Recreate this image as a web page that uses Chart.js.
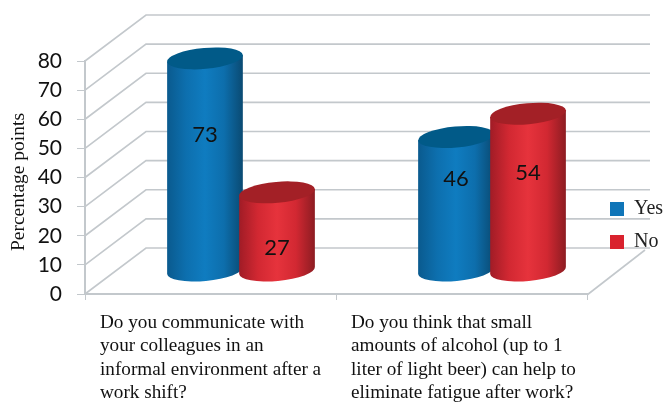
<!DOCTYPE html>
<html>
<head>
<meta charset="utf-8">
<style>
  html, body { margin: 0; padding: 0; background: #fff; }
  #wrap { width: 667px; height: 403px; }
</style>
</head>
<body>
<div id="wrap"><canvas id="chart" width="667" height="403"></canvas></div>
<script src="https://cdn.jsdelivr.net/npm/chart.js@4"></script>
<script>
const categories = [
    ['Do you communicate with', 'your colleagues in an', 'informal environment after a', 'work shift?'],
    ['Do you think that small', 'amounts of alcohol (up to 1', 'liter of light beer) can help to', 'eliminate fatigue after work?']
];
const yesValues = [73, 46];
const noValues = [27, 54];
const yTicks = [0, 10, 20, 30, 40, 50, 60, 70, 80];
const yTitle = 'Percentage points';

// 3D look: depth of the box and how the cylinders sit in it
const depthX = 61, depthY = -46;
const wallRight = 650;
const capRy = 10.5, capTilt = -0.09;
const labelShift = [[-30, 16], [-25, -19]];
const gridColor = '#c3c8cc';
const serif = '"Liberation Serif", serif';
const sans = 'Lato, sans-serif';

const bodyStops = {
    Yes: ['#0a5a8e', '#0d6fae', '#0f7cc0', '#0d6eac', '#0a4a72'],
    No: ['#a01c26', '#d22832', '#e6333c', '#d22832', '#8c1c22']
};
const capColors = { Yes: '#015a88', No: '#a32026' };

function drawCylinder(ctx, bar, name) {
    const rx = bar.width / 2;
    const cx = bar.x + depthX / 2;
    const top = bar.y + depthY / 2;
    const base = bar.base + depthY / 2;
    const ex = rx * Math.cos(capTilt), ey = rx * Math.sin(capTilt);

    const grad = ctx.createLinearGradient(cx - rx, 0, cx + rx, 0);
    bodyStops[name].forEach((c, i, all) => grad.addColorStop(i / (all.length - 1), c));

    ctx.beginPath();
    ctx.moveTo(cx - ex, top - ey);
    ctx.lineTo(cx - ex, base - ey);
    ctx.ellipse(cx, base, rx, capRy, capTilt, Math.PI, 0, true);
    ctx.lineTo(cx + ex, top + ey);
    ctx.closePath();
    ctx.fillStyle = grad;
    ctx.fill();

    ctx.beginPath();
    ctx.ellipse(cx, top, rx, capRy, capTilt, 0, Math.PI * 2);
    ctx.fillStyle = capColors[name];
    ctx.fill();
}

const box3d = {
    id: 'box3d',
    beforeDraw(chart) {
        const { ctx, scales: { x, y } } = chart;
        ctx.save();
        ctx.strokeStyle = gridColor;
        ctx.lineWidth = 1.6;
        yTicks.forEach(v => {
            const py = y.getPixelForValue(v);
            ctx.beginPath();
            ctx.moveTo(x.left, py);
            ctx.lineTo(x.left + depthX, py + depthY);
            ctx.lineTo(wallRight, py + depthY);
            ctx.stroke();
        });
        // right edge of the floor
        const floor = y.getPixelForValue(0);
        ctx.beginPath();
        ctx.moveTo(x.right, floor + 1);
        ctx.lineTo(wallRight - 5, floor + depthY + 2);
        ctx.stroke();
        ctx.restore();

        // the legend is placed by hand at the right of the box
        const legend = chart.legend;
        const dx = 597 - legend.left, dy = 186 - legend.top;
        legend.left += dx; legend.right += dx;
        legend.top += dy; legend.bottom += dy;
    },
    // native bars are replaced by the cylinders
    beforeDatasetDraw() {
        return false;
    },
    afterDatasetsDraw(chart) {
        const { ctx, scales: { x } } = chart;
        ctx.save();
        chart.data.datasets.forEach((ds, d) => {
            chart.getDatasetMeta(d).data.forEach(bar => drawCylinder(ctx, bar, ds.label));
        });
        ctx.fillStyle = '#111';
        ctx.font = '22px ' + sans;
        ctx.textAlign = 'center';
        ctx.textBaseline = 'middle';
        chart.data.datasets.forEach((ds, d) => {
            chart.getDatasetMeta(d).data.forEach((bar, i) => {
                const mid = (bar.y + bar.base + depthY) / 2;
                ctx.fillText(String(ds.data[i]), bar.x + depthX / 2, mid + labelShift[i][d]);
            });
        });
        // category labels are left aligned under each band
        ctx.fillStyle = '#111';
        ctx.font = '19.2px ' + serif;
        ctx.textAlign = 'left';
        categories.forEach((lines, i) => {
            const left = x.getPixelForTick(i) - 110.5;
            lines.forEach((line, n) => ctx.fillText(line, left, 323 + n * 23.3));
        });
        // y axis title
        ctx.translate(19, 182);
        ctx.rotate(-Math.PI / 2);
        ctx.textAlign = 'center';
        ctx.font = '19.5px ' + serif;
        ctx.fillText(yTitle, 0, 0);
        ctx.restore();
    }
};

new Chart(document.getElementById('chart'), {
    type: 'bar',
    data: {
        labels: categories,
        datasets: [
            { label: 'Yes', data: yesValues, backgroundColor: '#0f75b8' },
            { label: 'No', data: noValues, backgroundColor: '#d9222e' }
        ]
    },
    options: {
        responsive: false,
        animation: false,
        categoryPercentage: 0.574,
        barPercentage: 1.055,
        layout: { padding: { top: 61, left: 0, right: 80, bottom: 99 } },
        plugins: {
            tooltip: { enabled: false },
            legend: {
                position: 'chartArea',
                align: 'start',
                labels: {
                    boxWidth: 14,
                    boxHeight: 14,
                    padding: 13,
                    color: '#222',
                    font: { family: serif, size: 20 }
                }
            }
        },
        scales: {
            x: {
                offset: true,
                afterFit: s => { s.height = 10; },
                ticks: { display: false },
                border: { color: gridColor, width: 2 },
                grid: { drawOnChartArea: false, color: gridColor, tickLength: 6 }
            },
            y: {
                min: 0,
                max: 80,
                afterFit: s => { s.width = 85; },
                afterBuildTicks: s => { s.ticks = yTicks.map(v => ({ value: v })); },
                ticks: {
                    color: '#111',
                    padding: 15,
                    font: { family: sans, size: 21 }
                },
                border: { color: gridColor, width: 2 },
                grid: { drawOnChartArea: false, color: gridColor, tickLength: 8 }
            }
        }
    },
    plugins: [box3d]
});
</script>
</body>
</html>
